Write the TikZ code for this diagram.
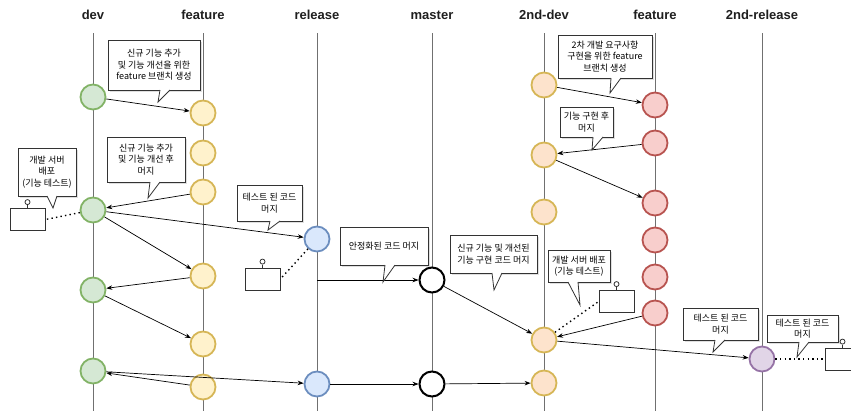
\documentclass[tikz,border=0pt]{standalone}
\usepackage{fontspec}
\setmainfont{Liberation Sans}
\newfontfamily\kr{Noto Sans CJK KR}
\usetikzlibrary{arrows.meta,calc,shadows}

\definecolor{greenF}{HTML}{D5E8D4}\definecolor{greenS}{HTML}{82B366}
\definecolor{yellowF}{HTML}{FFF2CC}\definecolor{yellowS}{HTML}{D6B656}
\definecolor{peachF}{HTML}{FDE3CC}\definecolor{peachS}{HTML}{D6B656}
\definecolor{blueF}{HTML}{DAE8FC}\definecolor{blueS}{HTML}{6C8EBF}
\definecolor{redF}{HTML}{F8CECC}\definecolor{redS}{HTML}{B85450}
\definecolor{purpleF}{HTML}{E1D5E7}\definecolor{purpleS}{HTML}{9673A6}
\definecolor{branchC}{HTML}{707070}

\tikzset{
  header/.style={font=\fontsize{13}{15}\selectfont\bfseries, text=black!88},
  branch/.style={draw=branchC, line width=0.9pt},
  commit/.style={circle, minimum size=25pt, inner sep=0pt, line width=1.8pt},
  devc/.style={commit, fill=greenF, draw=greenS},
  featc/.style={commit, fill=yellowF, draw=yellowS},
  sdevc/.style={commit, fill=peachF, draw=peachS},
  relc/.style={commit, fill=blueF, draw=blueS},
  masc/.style={commit, fill=white, draw=black, line width=2pt},
  sfeatc/.style={commit, fill=redF, draw=redS},
  srelc/.style={commit, fill=purpleF, draw=purpleS},
  conn/.style={draw=black, line width=0.7pt, -{Stealth[length=6pt,width=4.5pt]}},
  dotline/.style={draw=black, line width=1.4pt, dash pattern=on 1.4pt off 3.2pt},
  bubblebox/.style={draw=black!80, fill=white, line width=0.8pt, align=center,
    inner sep=1pt, font=\kr\fontsize{9}{11.5}\selectfont,
    drop shadow={opacity=0.25, shadow xshift=1.5pt, shadow yshift=-1.5pt}},
  bubbleline/.style={draw=black!80, line width=0.8pt, line join=miter},
  serverbox/.style={draw=black!80, fill=white, line width=0.8pt,
    minimum width=35pt, minimum height=22pt, inner sep=0pt},
  knob/.style={circle, draw=black!80, fill=white, line width=0.8pt,
    minimum size=5pt, inner sep=0pt},
}

% callout: name, x1, y1, x2, y2, tail base x, tip x, tip y, text
\newcommand{\bubble}[9]{%
  \node[bubblebox, minimum width={#4-#2}, minimum height={#5-#3}]
    (#1) at ({(#2+#4)/2},{(#3+#5)/2}) {#9};
  \fill[white] (#6,#5-1) -- (#6,#5) -- (#7,#8) -- (#6+10,#5) -- (#6+10,#5-1) -- cycle;
  \draw[bubbleline] (#6,#5) -- (#7,#8) -- (#6+10,#5);
}

% server box with a small knob on top
\newcommand{\server}[3]{%
  \node[serverbox] (#1) at (#2,#3) {};
  \node[knob] (#1k) at ($(#1.north)+(0,-6)$) {};
  \draw[black!80, line width=0.8pt] (#1k) -- (#1.north);
}

\begin{document}
\begin{tikzpicture}[x=1pt,y=-1pt]
\useasboundingbox (0,0) rectangle (851,410);
\clip (0,0) rectangle (851,410);
\fill[white] (0,0) rectangle (851,410);

% branch headers
\node[header] (hdev)   at (93,15)  {dev};
\node[header] (hfeat)  at (203,15) {feature};
\node[header] (hrel)   at (317,15) {release};
\node[header] (hmas)   at (432,15) {master};
\node[header] (hsdev)  at (544,15) {2nd-dev};
\node[header] (hsfeat) at (655,15) {feature};
\node[header] (hsrel)  at (762,15) {2nd-release};

% branch lines
\foreach \n/\x in {dev/93, feat/203, rel/317, mas/432, sdev/544, sfeat/655, srel/762}{
  \coordinate (\n-top) at (\x,33);
  \coordinate (\n-bot) at (\x,414);
  \draw[branch] (\n-top) -- (\n-bot);
}
\coordinate (relm) at (317,280);

% commits
\node[devc] (d1) at (93,97) {};
\node[devc] (d2) at (93,210) {};
\node[devc] (d3) at (93,290) {};
\node[devc] (d4) at (93,371) {};

\node[featc] (f1) at (203,113) {};
\node[featc] (f2) at (203,153) {};
\node[featc] (f3) at (203,192) {};
\node[featc] (f4) at (203,276) {};
\node[featc] (f5) at (203,344) {};
\node[featc] (f6) at (203,387) {};

\node[relc] (r1) at (317,239) {};
\node[relc] (r2) at (317,384) {};

\node[masc] (m1) at (432,280) {};
\node[masc] (m2) at (432,384) {};

\node[sdevc] (s1) at (544,85) {};
\node[sdevc] (s2) at (544,155) {};
\node[sdevc] (s3) at (544,212) {};
\node[sdevc] (s4) at (544,340) {};
\node[sdevc] (s5) at (544,383) {};

\node[sfeatc] (g1) at (655,105) {};
\node[sfeatc] (g2) at (655,143) {};
\node[sfeatc] (g3) at (655,203) {};
\node[sfeatc] (g4) at (655,240) {};
\node[sfeatc] (g5) at (655,277) {};
\node[sfeatc] (g6) at (655,313) {};

\node[srelc] (p1) at (762,359) {};

% merges
\draw[conn] (d1) -- (f1);
\draw[conn] (f3) -- (d2);
\draw[conn] (d2) -- (r1);
\draw[conn] (d2) -- (f4);
\draw[conn] (f4) -- (d3);
\draw[conn] (d3) -- (f5);
\draw[conn] (f6) -- (d4);
\draw[conn] (d4) -- (r2);
\draw[conn] (r2) -- (m2);
\draw[conn] (m2) -- (s5);
\draw[conn] (relm) -- (m1);
\draw[conn] (m1) -- (s4);
\draw[conn] (g6) -- (s4);
\draw[conn] (s4) -- (p1);
\draw[conn] (s1) -- (g1);
\draw[conn] (g2) -- (s2);
\draw[conn] (s2) -- (g3);

% deployment servers
\server{sv1}{27.5}{219.5}
\server{sv2}{262.5}{279}
\server{sv3}{616.5}{301.5}
\server{sv4}{842.5}{359}
\draw[dotline] (d2) -- (sv1.east);
\draw[dotline] (r1) -- (sv2.east);
\draw[dotline] (s4) -- (sv3.west);
\draw[dotline] (p1) -- (sv4.west);

% callouts
\bubble{cA}{108}{40}{200}{90}{160}{158}{102}{신규 기능 추가\\및 기능 개선을 위한\\feature 브랜치 생성}
\bubble{cB}{107}{137}{185}{182}{150}{148}{198}{신규 기능 추가\\및 기능 개선 후\\머지}
\bubble{cC}{18}{148}{76}{196}{47}{53}{208}{개발 서버\\배포\\(기능 테스트)}
\bubble{cD}{237}{185}{302}{221}{270}{268}{230}{테스트 된 코드\\머지}
\bubble{cE}{340}{227}{428}{265}{385}{383}{282}{안정화된 코드 머지}
\bubble{cF}{450}{235}{537}{273}{492}{494}{290}{신규 기능 및 개선된\\기능 구현 코드 머지}
\bubble{cG}{548}{250}{610}{282}{568}{580}{305}{개발 서버 배포\\(기능 테스트)}
\bubble{cH}{558}{35}{652}{78}{611}{610}{93}{2차 개발 요구사항\\구현을 위한 feature\\브랜치 생성}
\bubble{cI}{560}{107}{613}{137}{593}{592}{150}{기능 구현 후\\머지}
\bubble{cJ}{683}{308}{758}{340}{715}{713}{352}{테스트 된 코드\\머지}
\bubble{cK}{767}{315}{838}{342}{799}{797}{357}{테스트 된 코드\\머지}
\end{tikzpicture}
\end{document}
